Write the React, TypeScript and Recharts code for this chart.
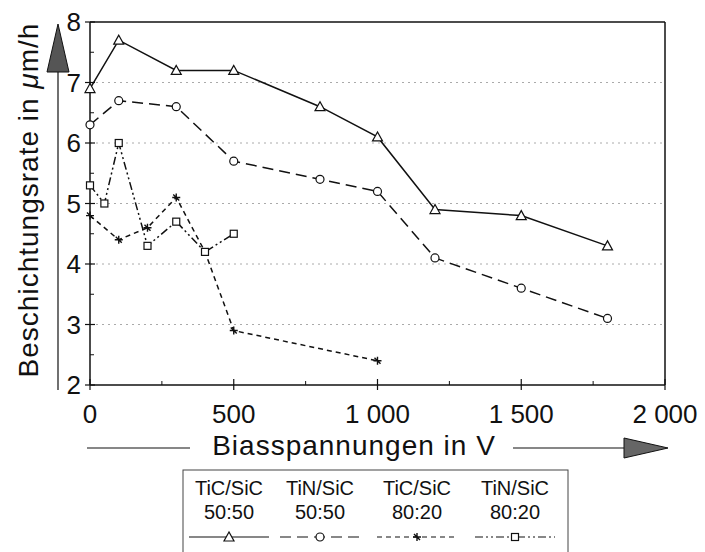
import React from "react";
import { LineChart, Line, XAxis, YAxis, ReferenceLine } from "recharts";

// Biasspannung (V) and Beschichtungsrate (µm/h) per Schichtsystem
const ticSic5050Bias = [0, 100, 300, 500, 800, 1000, 1200, 1500, 1800];
const ticSic5050Rate = [6.9, 7.7, 7.2, 7.2, 6.6, 6.1, 4.9, 4.8, 4.3];
const tinSic5050Bias = [0, 100, 300, 500, 800, 1000, 1200, 1500, 1800];
const tinSic5050Rate = [6.3, 6.7, 6.6, 5.7, 5.4, 5.2, 4.1, 3.6, 3.1];
const ticSic8020Bias = [0, 100, 200, 300, 400, 500, 1000];
const ticSic8020Rate = [4.8, 4.4, 4.6, 5.1, 4.2, 2.9, 2.4];
const tinSic8020Bias = [0, 50, 100, 200, 300, 400, 500];
const tinSic8020Rate = [5.3, 5.0, 6.0, 4.3, 4.7, 4.2, 4.5];

const seriesNames = ["TiC/SiC", "TiN/SiC", "TiC/SiC", "TiN/SiC"];
const seriesRatios = ["50:50", "50:50", "80:20", "80:20"];

const biasTicks = [0, 250, 500, 750, 1000, 1250, 1500, 1750, 2000];
const rateTicks = [2, 2.5, 3, 3.5, 4, 4.5, 5, 5.5, 6, 6.5, 7, 7.5, 8];
const gridRates = [3, 4, 5, 6, 7];

const FONT = "'Liberation Sans', Arial, Helvetica, sans-serif";
const INK = "#111";

const toRows = (bias: number[], rate: number[]) => bias.map((v, i) => ({ v, r: rate[i] }));

const fmtBias = (v: number) =>
  v >= 1000 ? `${Math.floor(v / 1000)} ${String(v % 1000).padStart(3, "0")}` : String(v);

// marker shapes
const Marker = ({ kind, cx, cy }: { kind: string; cx: number; cy: number }) => {
  if (kind === "tri")
    return (
      <polygon
        points={`${cx},${cy - 5} ${cx - 5},${cy + 4} ${cx + 5},${cy + 4}`}
        fill="#fff"
        stroke={INK}
        strokeWidth={1.2}
      />
    );
  if (kind === "circle") return <circle cx={cx} cy={cy} r={4} fill="#fff" stroke={INK} strokeWidth={1.2} />;
  if (kind === "square")
    return <rect x={cx - 3.5} y={cy - 3.5} width={7} height={7} fill="#fff" stroke={INK} strokeWidth={1.2} />;
  return (
    <path
      d={`M${cx - 4},${cy} h8 M${cx},${cy - 4} v8 M${cx - 3},${cy - 3} l6,6`}
      stroke={INK}
      strokeWidth={1.4}
      fill="none"
    />
  );
};

const series = [
  { data: toRows(ticSic5050Bias, ticSic5050Rate), dash: undefined, marker: "tri" },
  { data: toRows(tinSic5050Bias, tinSic5050Rate), dash: "11 6", marker: "circle" },
  { data: toRows(ticSic8020Bias, ticSic8020Rate), dash: "5 4", marker: "plus" },
  { data: toRows(tinSic8020Bias, tinSic8020Rate), dash: "8 3 2 3 2 3", marker: "square" },
];

const XTick = (props: any) => {
  const { x, y, payload } = props;
  const v = payload.value as number;
  const major = v % 500 === 0;
  return (
    <g>
      {major ? (
        <line x1={x} x2={x} y1={y - 6} y2={y + 5} stroke={INK} strokeWidth={1.2} />
      ) : (
        <line x1={x} x2={x} y1={y - 4} y2={y} stroke={INK} strokeWidth={1} />
      )}
      {major && (
        <text x={x} y={y + 38} textAnchor="middle" fontSize={26} fill={INK} fontFamily={FONT}>
          {fmtBias(v)}
        </text>
      )}
    </g>
  );
};

const YTick = (props: any) => {
  const { x, y, payload } = props;
  const v = payload.value as number;
  const major = Number.isInteger(v);
  return (
    <g>
      {major ? (
        <line x1={x - 5} x2={x + 5} y1={y} y2={y} stroke={INK} strokeWidth={1.2} />
      ) : (
        <line x1={x} x2={x + 4} y1={y} y2={y} stroke={INK} strokeWidth={1} />
      )}
      {major && (
        <text x={x - 9} y={y + 9} textAnchor="end" fontSize={26} fill={INK} fontFamily={FONT}>
          {v}
        </text>
      )}
    </g>
  );
};

export default function App() {
  const legendCenters = [229, 320, 417, 515];
  return (
    <div style={{ position: "absolute", left: 0, top: 0, width: 705, height: 552, background: "#fff" }}>
      <LineChart width={705} height={552} margin={{ top: 22, right: 40, bottom: 0, left: 0 }}>
        <XAxis
          type="number"
          dataKey="v"
          domain={[0, 2000]}
          ticks={biasTicks}
          interval={0}
          height={167}
          tickSize={0}
          tickMargin={0}
          tickLine={false}
          tick={<XTick />}
          axisLine={{ stroke: INK, strokeWidth: 1.5 }}
          allowDuplicatedCategory={false}
        />
        <YAxis
          type="number"
          dataKey="r"
          domain={[2, 8]}
          ticks={rateTicks}
          interval={0}
          width={90}
          tickSize={0}
          tickMargin={0}
          tickLine={false}
          tick={<YTick />}
          axisLine={{ stroke: INK, strokeWidth: 1.5 }}
        />
        {gridRates.map((g) => (
          <ReferenceLine key={g} y={g} stroke="#aaa" strokeDasharray="2 4" strokeWidth={1} />
        ))}
        <ReferenceLine y={8} stroke={INK} strokeWidth={1.5} />
        <ReferenceLine x={2000} stroke={INK} strokeWidth={1.5} />
        {series.map((s, si) => (
          <Line
            key={si}
            data={s.data}
            dataKey="r"
            type="linear"
            stroke={INK}
            strokeWidth={1.5}
            strokeDasharray={s.dash}
            isAnimationActive={false}
            activeDot={false}
            dot={(p: any) => <Marker key={`m-${si}-${p.index}`} kind={s.marker} cx={p.cx} cy={p.cy} />}
          />
        ))}
      </LineChart>
      <svg
        width={705}
        height={552}
        style={{ position: "absolute", left: 0, top: 0, pointerEvents: "none" }}
        fontFamily={FONT}
      >
        {/* y-axis title with arrow */}
        <line x1={58} x2={58} y1={70} y2={390} stroke={INK} strokeWidth={1.2} />
        <polygon points="58,24 47,72 69,72" fill="#555" stroke={INK} strokeWidth={1} />
        <text
          transform="translate(38,200) rotate(-90)"
          textAnchor="middle"
          fontSize={28}
          letterSpacing={1}
          fill={INK}
        >
          Beschichtungsrate in <tspan fontStyle="italic">μ</tspan>m/h
        </text>
        {/* x-axis title with arrow */}
        <line x1={87} x2={190} y1={448} y2={448} stroke={INK} strokeWidth={1.2} />
        <line x1={513} x2={626} y1={448} y2={448} stroke={INK} strokeWidth={1.2} />
        <polygon points="624,438 624,458 668,448" fill="#666" stroke={INK} strokeWidth={1} />
        <text x={354} y={455} textAnchor="middle" fontSize={28} letterSpacing={1} fill={INK}>
          Biasspannungen in V
        </text>
        {/* legend */}
        <rect x={183} y={470} width={385} height={90} fill="none" stroke="#444" strokeWidth={1} />
        {series.map((s, i) => {
          const c = legendCenters[i];
          return (
            <g key={i}>
              <text x={c} y={495} textAnchor="middle" fontSize={20} fill={INK}>
                {seriesNames[i]}
              </text>
              <text x={c} y={519} textAnchor="middle" fontSize={20} fill={INK}>
                {seriesRatios[i]}
              </text>
              <line
                x1={c - 40}
                x2={c + 40}
                y1={537}
                y2={537}
                stroke={INK}
                strokeWidth={1.2}
                strokeDasharray={s.dash}
              />
              <Marker kind={s.marker} cx={c} cy={537} />
            </g>
          );
        })}
      </svg>
    </div>
  );
}
